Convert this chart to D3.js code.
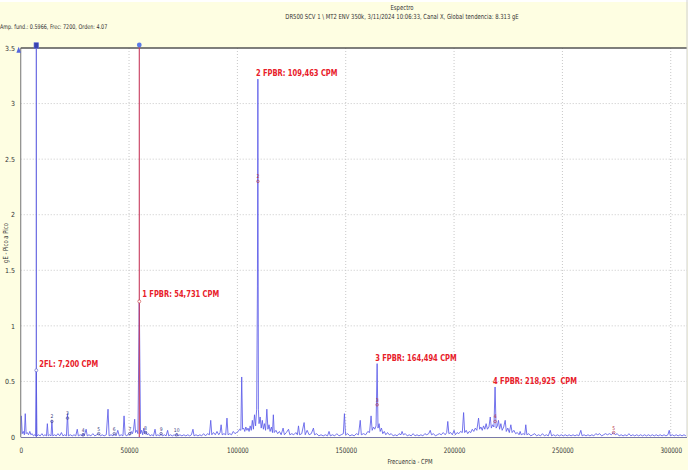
<!DOCTYPE html>
<html>
<head>
<meta charset="utf-8">
<script src="https://cdn.jsdelivr.net/npm/d3@7"></script>
<style>
body { margin: 0; background: #fff; }
svg { display: block; }
text { font-family: "Liberation Sans Narrow", "DejaVu Sans Condensed", Arial, sans-serif; }
</style>
</head>
<body>
<div class="chart"></div>
<script>
// espectro de envolvente (CPM, gE)
var spectrum = [
  [0,0.02],[300,0.19],[700,0.03],[1200,0.05],[1700,0.02],[2100,0.21],[2500,0.03],[3000,0.04],
  [3600,0.02],[4200,0.05],[4700,0.02],[5300,0.03],[5900,0.01],[6500,0.02],[6900,0.01],[7200,0.60],
  [7500,0.01],[8200,0.02],[9000,0.01],[9800,0.03],[10500,0.01],[11200,0.02],[11900,0.01],[12300,0.12],
  [12700,0.01],[13400,0.02],[14000,0.01],[14400,0.15],[14800,0.01],[15600,0.02],[16400,0.01],[17200,0.03],
  [18000,0.01],[18800,0.04],[19500,0.01],[20300,0.02],[21100,0.01],[21600,0.21],[22000,0.01],[22900,0.02],
  [23800,0.01],[24600,0.02],[25400,0.01],[26100,0.07],[26600,0.01],[27500,0.02],[28400,0.01],[28800,0.03],
  [29300,0.01],[30200,0.07],[30700,0.01],[31500,0.02],[32400,0.01],[33300,0.03],[34200,0.01],[35100,0.02],
  [36000,0.03],[36800,0.01],[37600,0.02],[38500,0.01],[39500,0.02],[40300,0.25],[40800,0.01],[41700,0.02],
  [42600,0.01],[43200,0.03],[44000,0.01],[44800,0.06],[45500,0.01],[46400,0.02],[47200,0.01],[47700,0.19],
  [48200,0.02],[49000,0.01],[49800,0.03],[50400,0.02],[51000,0.05],[51600,0.03],[52100,0.07],[52600,0.16],
  [53000,0.04],[53600,0.06],[54100,0.03],[54731,1.23],[55300,0.03],[55800,0.06],[56300,0.02],[56800,0.08],
  [57300,0.03],[57800,0.05],[58300,0.02],[59000,0.03],[59700,0.01],[60500,0.02],[61300,0.01],[62000,0.07],
  [62500,0.01],[63300,0.02],[64100,0.01],[64800,0.03],[65500,0.01],[66300,0.02],[67100,0.01],[67800,0.06],
  [68300,0.01],[69100,0.02],[70000,0.01],[70800,0.02],[71500,0.01],[72000,0.03],[72600,0.01],[73500,0.02],
  [74400,0.01],[75300,0.02],[76200,0.01],[77100,0.02],[78000,0.01],[78800,0.02],[79500,0.07],[80000,0.01],
  [80900,0.02],[81800,0.01],[82700,0.02],[83500,0.01],[84400,0.03],[85300,0.01],[86200,0.03],[87100,0.02],
  [87700,0.15],[88200,0.02],[89000,0.04],[89800,0.02],[90600,0.05],[91400,0.02],[92000,0.04],[92500,0.11],
  [93000,0.02],[93800,0.03],[94600,0.02],[95200,0.17],[95700,0.02],[96500,0.03],[97300,0.02],[98100,0.05],
  [98900,0.03],[99600,0.04],[100400,0.05],[101000,0.07],[101600,0.06],[102000,0.54],[102400,0.07],[102900,0.08],
  [103400,0.05],[103900,0.09],[104400,0.06],[104900,0.08],[105400,0.05],[105900,0.10],[106400,0.06],[106900,0.15],
  [107400,0.07],[107900,0.20],[108400,0.10],[108900,0.25],[109250,1.35],[109463,3.22],[109700,0.25],[110000,0.12],
  [110500,0.18],[111000,0.08],[111500,0.15],[112000,0.07],[112500,0.12],[113000,0.06],[113600,0.25],[114100,0.07],
  [114600,0.11],[115100,0.05],[115700,0.09],[116200,0.04],[116600,0.20],[117000,0.04],[117800,0.06],[118600,0.03],
  [119400,0.05],[120200,0.02],[121100,0.08],[121700,0.02],[122600,0.04],[123600,0.07],[124200,0.02],[125100,0.03],
  [126000,0.02],[127000,0.04],[127700,0.02],[128200,0.10],[128700,0.02],[129700,0.03],[130800,0.13],[131300,0.02],
  [132200,0.06],[133100,0.02],[134100,0.03],[135100,0.08],[135600,0.02],[136600,0.03],[137600,0.01],[138600,0.02],
  [139600,0.01],[140600,0.02],[141600,0.01],[142300,0.05],[142900,0.01],[143900,0.02],[144900,0.01],[145900,0.03],
  [146900,0.01],[147900,0.02],[148900,0.03],[149400,0.21],[149900,0.02],[150900,0.03],[151900,0.01],[152900,0.02],
  [153900,0.01],[154900,0.03],[155900,0.02],[156700,0.15],[157200,0.02],[158200,0.03],[159200,0.02],[160200,0.05],
  [161000,0.04],[161700,0.19],[162200,0.06],[162800,0.09],[163400,0.07],[164000,0.10],[164494,0.66],[164900,0.08],
  [165400,0.12],[165900,0.05],[166500,0.08],[167100,0.03],[167800,0.05],[168500,0.02],[169300,0.04],[170100,0.02],
  [171000,0.03],[171900,0.01],[172800,0.02],[173700,0.01],[174600,0.03],[175500,0.02],[176000,0.05],[176600,0.02],
  [177500,0.03],[178400,0.01],[179300,0.02],[180200,0.01],[181100,0.03],[182000,0.01],[182900,0.02],[183800,0.01],
  [184700,0.02],[185600,0.01],[186500,0.03],[187400,0.02],[188300,0.03],[189000,0.06],[189600,0.02],[190500,0.03],
  [191400,0.01],[192300,0.02],[193200,0.03],[194100,0.02],[195000,0.04],[195900,0.02],[196600,0.04],[197100,0.14],
  [197600,0.03],[198400,0.04],[199200,0.02],[200000,0.06],[200600,0.02],[201400,0.04],[202200,0.03],[203000,0.05],
  [203800,0.04],[204400,0.22],[204900,0.04],[205600,0.06],[206300,0.03],[207000,0.05],[207700,0.04],[208400,0.07],
  [209100,0.05],[209800,0.08],[210500,0.06],[211300,0.17],[211800,0.07],[212400,0.09],[213000,0.06],[213600,0.10],
  [214200,0.07],[214800,0.12],[215400,0.07],[216100,0.09],[216700,0.18],[217200,0.08],[217800,0.11],[218400,0.09],
  [218925,0.45],[219400,0.08],[220000,0.10],[220500,0.15],[221000,0.07],[221600,0.12],[222200,0.06],[222900,0.09],
  [223600,0.15],[224100,0.05],[224800,0.08],[225500,0.04],[226200,0.11],[226800,0.04],[227600,0.06],[228400,0.03],
  [229200,0.04],[230000,0.02],[230500,0.05],[231000,0.02],[231900,0.03],[232600,0.02],[233100,0.11],[233600,0.02],
  [234500,0.03],[235400,0.01],[236300,0.02],[237200,0.03],[238100,0.01],[239000,0.02],[239900,0.01],[240800,0.03],
  [241700,0.01],[242600,0.02],[243500,0.01],[244400,0.06],[245000,0.01],[245900,0.02],[246800,0.01],[247700,0.02],
  [248600,0.01],[249500,0.02],[250400,0.01],[251300,0.02],[252200,0.01],[253100,0.02],[254000,0.01],[254900,0.02],
  [255800,0.01],[256700,0.02],[257600,0.01],[258500,0.06],[259100,0.01],[260000,0.02],[260900,0.01],[261800,0.02],
  [262700,0.01],[263600,0.02],[264500,0.01],[265400,0.03],[266300,0.02],[267200,0.03],[268100,0.01],[269000,0.02],
  [269900,0.03],[270800,0.02],[271700,0.03],[272600,0.02],[273500,0.04],[274400,0.02],[275300,0.03],[276200,0.01],
  [277100,0.02],[278000,0.01],[278900,0.02],[279800,0.01],[280700,0.03],[281600,0.01],[282500,0.02],[283400,0.01],
  [284300,0.02],[285200,0.01],[286100,0.02],[287000,0.01],[287900,0.02],[288800,0.01],[289700,0.02],[290600,0.01],
  [291500,0.02],[292400,0.01],[293300,0.02],[294200,0.01],[295100,0.02],[296000,0.01],[296900,0.02],[297800,0.01],
  [298700,0.02],[299300,0.06],[299800,0.01],[300700,0.02],[301600,0.01],[302500,0.02],[303400,0.01],[304300,0.02],
  [305200,0.01],[306100,0.02],[307000,0.01]
];

var xTicks = [0, 50000, 100000, 150000, 200000, 250000, 300000];
var yTicks = [0, 0.5, 1, 1.5, 2, 2.5, 3, 3.5];

// cursores (frec. fundamental y 1 FPBR)
var cursorFreqs = [7200, 54731];
var cursorAmps = [0.60, 1.22];

// armonicos de 7200 CPM
var harmFreqs = [14400, 21600, 28800, 36000, 43200, 50400, 57600, 64800, 72000];
var harmAmps = [0.14, 0.17, 0.02, 0.03, 0.03, 0.03, 0.04, 0.03, 0.02];
var harmLabels = ["2", "3", "4", "5", "6", "7", "8", "9", "10"];

// marcadores de la familia FPBR
var fpbrFreqs = [109463, 164494, 218925, 273655];
var fpbrAmps = [2.30, 0.29, 0.14, 0.04];
var fpbrLabels = ["2", "3", "4", "5"];

// anotaciones en rojo
var noteFreqs = [7200, 54731, 109463, 164494, 218925];
var noteAmps = [0.60, 1.23, 3.22, 0.66, 0.45];
var noteTexts = ["2FL: 7,200 CPM", "1 FPBR: 54,731 CPM", "2 FPBR: 109,463 CPM", "3 FPBR: 164,494 CPM", "4 FPBR: 218,925  CPM"];

var titleText = "Espectro";
var subtitleText = "DR500 SCV 1 \\ MT2 ENV  350k, 3/11/2024 10:06:33, Canal X, Global tendencia: 8.313 gE";
var infoText = "Amp. fund.: 0.5966, Frec: 7200, Orden: 4.07";

var W = 688, H = 470;
var plotL = 20.7, plotR = 687, plotT = 48, plotB = 437;
var narrow = 0.84; // la fuente original es mas estrecha

var x = d3.scaleLinear().domain([0, 307500]).range([plotL, plotR]);
var y = d3.scaleLinear().domain([0, 3.5]).range([plotB, plotT]);

var svg = d3.select(".chart").append("svg")
    .attr("width", W)
    .attr("height", H);

svg.append("rect")
    .attr("x", 0).attr("y", 2)
    .attr("width", W).attr("height", H - 2)
    .attr("fill", "#fefee2");

svg.append("rect")
    .attr("x", plotL).attr("y", plotT)
    .attr("width", plotR - plotL).attr("height", plotB - plotT)
    .attr("fill", "#fff");

function squeezed(px, py, k) {
    return "translate(" + px + "," + py + ") scale(" + k + ",1)";
}

// cabecera
svg.append("text").attr("transform", squeezed(402, 10, narrow))
    .attr("text-anchor", "middle").attr("font-size", 7).attr("fill", "#333")
    .text(titleText);
svg.append("text").attr("transform", squeezed(402, 19, narrow))
    .attr("text-anchor", "middle").attr("font-size", 7).attr("fill", "#333")
    .text(subtitleText);
svg.append("text").attr("transform", squeezed(0, 28.5, 0.83))
    .attr("font-size", 6.5).attr("fill", "#333")
    .text(infoText);

// rejilla punteada
svg.append("g").selectAll("line")
    .data(xTicks.filter(function(d){ return d > 0; }))
    .enter().append("line")
    .attr("x1", function(d){ return x(d); }).attr("x2", function(d){ return x(d); })
    .attr("y1", plotT).attr("y2", plotB)
    .attr("stroke", "#c8c8c8").attr("stroke-dasharray", "1,2");

svg.append("g").selectAll("line")
    .data(yTicks.filter(function(d){ return d > 0 && d < 3.5; }))
    .enter().append("line")
    .attr("x1", plotL).attr("x2", plotR)
    .attr("y1", function(d){ return y(d); }).attr("y2", function(d){ return y(d); })
    .attr("stroke", "#c8c8c8").attr("stroke-dasharray", "1,2");

// espectro
var line = d3.line()
    .x(function(d){ return x(d[0]); })
    .y(function(d){ return y(d[1]); });

svg.append("path")
    .datum(spectrum)
    .attr("d", line)
    .attr("fill", "none")
    .attr("stroke", "#5c5ce8")
    .attr("stroke-width", 0.85);

// marco
svg.append("line").attr("x1", plotL).attr("x2", plotL).attr("y1", plotT).attr("y2", plotB)
    .attr("stroke", "#8a8a8a").attr("stroke-width", 1.2);
svg.append("line").attr("x1", plotL).attr("x2", plotR).attr("y1", plotT).attr("y2", plotT)
    .attr("stroke", "#555").attr("stroke-width", 1.5);
svg.append("line").attr("x1", plotL).attr("x2", plotR).attr("y1", plotB + 0.5).attr("y2", plotB + 0.5)
    .attr("stroke", "#7a7aa8").attr("stroke-width", 1.2);
svg.append("line").attr("x1", plotR).attr("x2", plotR).attr("y1", 0).attr("y2", plotB)
    .attr("stroke", "#d0d0d0").attr("stroke-width", 1);

// ejes
var xAxis = svg.append("g")
    .attr("transform", "translate(0," + plotB + ")")
    .call(d3.axisBottom(x).tickValues(xTicks).tickSize(0).tickPadding(11).tickFormat(d3.format("d")));
xAxis.select(".domain").remove();
xAxis.selectAll(".tick text").attr("font-size", 7.5).attr("fill", "#333")
    .attr("transform", "scale(" + narrow + ",1)")
    .style("font-family", "Liberation Sans Narrow, DejaVu Sans Condensed, Arial, sans-serif");

var yAxis = svg.append("g")
    .attr("transform", "translate(16,0)")
    .call(d3.axisLeft(y).tickValues(yTicks).tickSize(0).tickPadding(1).tickFormat(function(d){ return String(d); }));
yAxis.select(".domain").remove();
yAxis.selectAll("text").attr("font-size", 7).attr("fill", "#333")
    .style("font-family", "Liberation Sans Narrow, DejaVu Sans Condensed, Arial, sans-serif");

svg.append("text").attr("transform", squeezed(410, 464, narrow))
    .attr("text-anchor", "middle").attr("font-size", 7).attr("fill", "#333")
    .text("Frecuencia - CPM");
svg.append("text")
    .attr("transform", "translate(7.5,243) rotate(-90) scale(" + narrow + ",1)")
    .attr("text-anchor", "middle").attr("font-size", 7).attr("fill", "#333")
    .text("gE - Pico a Pico");

// cursores
var cursorColors = ["#5a5ae0", "#c83a5c"];
svg.append("g").selectAll("line")
    .data(cursorFreqs)
    .enter().append("line")
    .attr("x1", function(d){ return x(d); }).attr("x2", function(d){ return x(d); })
    .attr("y1", plotT - 4).attr("y2", plotB)
    .attr("stroke", function(d, i){ return cursorColors[i]; })
    .attr("stroke-width", 1.1);

svg.append("rect")
    .attr("x", x(cursorFreqs[0]) - 2.3).attr("y", 42.7)
    .attr("width", 4.6).attr("height", 5.6)
    .attr("fill", "#3a44b0").attr("stroke", "#6a74e0").attr("stroke-width", 0.6);
svg.append("circle")
    .attr("cx", x(cursorFreqs[1])).attr("cy", 45)
    .attr("r", 2.4).attr("fill", "#5a7ae8");
svg.append("path")
    .attr("d", "M" + (plotL - 2) + "," + 46.7 + "L" + (plotL + 0.3) + "," + 52.7 + "L" + (plotL - 4.3) + "," + 52.7 + "Z")
    .attr("fill", "#5566dd");

svg.append("g").selectAll("circle")
    .data(cursorFreqs)
    .enter().append("circle")
    .attr("cx", function(d){ return x(d); })
    .attr("cy", function(d, i){ return y(cursorAmps[i]); })
    .attr("r", 1.5)
    .attr("fill", "#fff")
    .attr("stroke", function(d, i){ return i === 0 ? "#6a6ad0" : "#d05050"; })
    .attr("stroke-width", 0.7);

// armonicos
var harm = svg.append("g").selectAll("g")
    .data(harmFreqs)
    .enter().append("g");
harm.append("circle")
    .attr("cx", function(d){ return x(d); })
    .attr("cy", function(d, i){ return y(harmAmps[i]); })
    .attr("r", 1.3)
    .attr("fill", "none").attr("stroke", "#3c3c80").attr("stroke-width", 0.6);
harm.append("text")
    .attr("x", function(d){ return x(d); })
    .attr("y", function(d, i){ return y(harmAmps[i]) - 3; })
    .attr("text-anchor", "middle").attr("font-size", 5).attr("fill", "#3c3c80")
    .text(function(d, i){ return harmLabels[i]; });

var fpbr = svg.append("g").selectAll("g")
    .data(fpbrFreqs)
    .enter().append("g");
fpbr.append("circle")
    .attr("cx", function(d){ return x(d); })
    .attr("cy", function(d, i){ return y(fpbrAmps[i]); })
    .attr("r", 1.3)
    .attr("fill", "none").attr("stroke", "#b83040").attr("stroke-width", 0.6);
fpbr.append("text")
    .attr("x", function(d){ return x(d); })
    .attr("y", function(d, i){ return y(fpbrAmps[i]) - 3; })
    .attr("text-anchor", "middle").attr("font-size", 5).attr("fill", "#b83040")
    .text(function(d, i){ return fpbrLabels[i]; });

// anotaciones
svg.append("g").selectAll("text")
    .data(noteFreqs)
    .enter().append("text")
    .attr("transform", function(d, i){
        var px = x(d) + (cursorFreqs.indexOf(d) >= 0 ? 3 : -2);
        return squeezed(px, y(noteAmps[i]) - 3, 0.79);
    })
    .attr("font-size", 9.5)
    .attr("font-weight", "bold")
    .attr("fill", "#e8202a")
    .style("white-space", "pre")
    .text(function(d, i){ return noteTexts[i]; });
</script>
</body>
</html>
